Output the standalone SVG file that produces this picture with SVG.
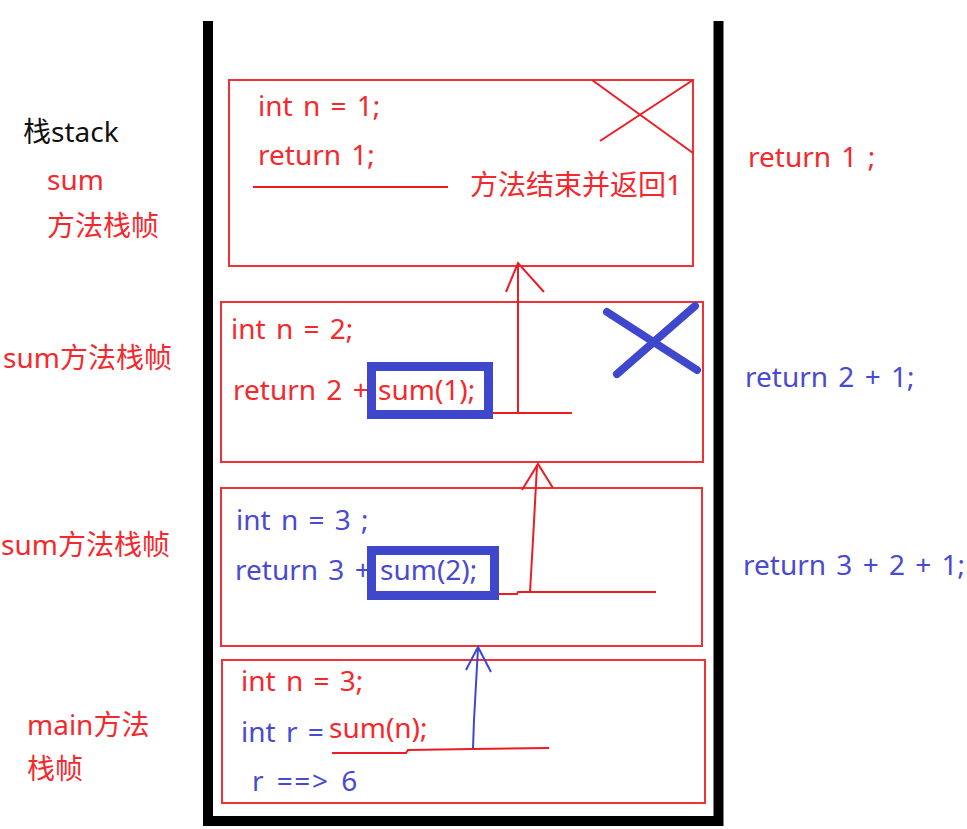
<svg xmlns="http://www.w3.org/2000/svg" width="967" height="829" viewBox="0 0 967 829">
<style>
text{font-family:"Noto Sans","Noto Sans CJK SC",sans-serif;font-size:28px;word-spacing:3px}
.r{fill:#f5282d}
.b{fill:#4a4ad0}
.k{fill:#111}
.frame{fill:none;stroke:#f03238;stroke-width:2}
.rl{fill:none;stroke:#ed1c24;stroke-width:2}
.bl{fill:none;stroke:#3f48cc;stroke-width:2}
.bbox{fill:none;stroke:#3f48cc;stroke-width:9}
</style>
<rect width="967" height="829" fill="#fff"/>
<g id="stack">
<path d="M208,21 V821 H718.5 V21" fill="none" stroke="#000" stroke-width="10"/>
</g>
<g id="frame-sum1">
<rect class="frame" x="229" y="80" width="464" height="186"/>
<text class="r" x="258" y="116">int n = 1;</text>
<text class="r" x="258" y="165">return 1;</text>
<text class="r" x="470" y="195">方法结束并返回1</text>
<line class="rl" x1="592" y1="80" x2="693" y2="153"/>
<line class="rl" x1="600" y1="141" x2="693" y2="80"/>
</g>
<g id="frame-sum2">
<rect class="frame" x="221" y="302" width="482" height="160"/>
<text class="r" x="231" y="339">int n = 2;</text>
<text class="r" x="233" y="400">return 2 + </text>
<rect class="bbox" x="371.5" y="366.5" width="117" height="48"/>
<text class="r" x="378" y="400">sum(1);</text>
<g stroke="#3f48cc" stroke-width="8" stroke-linecap="round">
<line x1="607" y1="312" x2="697" y2="370"/>
<line x1="695" y1="306" x2="617" y2="374"/>
</g>
</g>
<g id="frame-sum3">
<rect class="frame" x="221" y="488" width="481" height="158"/>
<text class="b" x="236" y="530">int n = 3 ;</text>
<text class="b" x="235" y="580">return 3 + </text>
<rect class="bbox" x="371.5" y="550.5" width="123" height="45"/>
<text class="b" x="380" y="580">sum(2);</text>
</g>
<g id="frame-main">
<rect class="frame" x="222" y="660" width="483" height="143"/>
<text class="r" x="241" y="691">int n = 3;</text>
<text class="b" x="241" y="742">int r = </text>
<text class="r" x="329" y="738">sum(n);</text>
<text class="b" x="252" y="791" letter-spacing="1.5">r ==&gt; 6</text>
</g>
<g id="labels-left">
<text class="k" x="23" y="142">栈stack</text>
<text class="r" x="47" y="190">sum</text>
<text class="r" x="47" y="236">方法栈帧</text>
<text class="r" x="3" y="368">sum方法栈帧</text>
<text class="r" x="1" y="555">sum方法栈帧</text>
<text class="r" x="27" y="735">main方法</text>
<text class="r" x="27" y="779">栈帧</text>
</g>
<g id="labels-right">
<text class="r" x="748" y="167">return 1 ;</text>
<text class="b" x="745" y="387">return 2 + 1;</text>
<text class="b" x="743" y="575">return 3 + 2 + 1;</text>
</g>
<g id="connectors">
<line class="rl" x1="253" y1="187" x2="448" y2="187"/>
<line class="rl" x1="493" y1="413" x2="572" y2="413"/>
<line class="rl" x1="518" y1="413" x2="518" y2="263"/>
<polyline class="rl" points="506,292 518,263 544,292"/>
<polyline class="rl" points="499,594 517,594 518,592 656,592"/>
<polyline class="rl" points="530,592 533,540 537,466"/>
<polyline class="rl" points="522,490 538,464 553,488"/>
<polyline class="rl" points="332,753 406,753 408,750 473,749 549,748"/>
<polyline class="bl" points="473,748 474,720 478,648"/>
<polyline class="bl" points="466,670 478,647 491,672"/>
</g>
</svg>
